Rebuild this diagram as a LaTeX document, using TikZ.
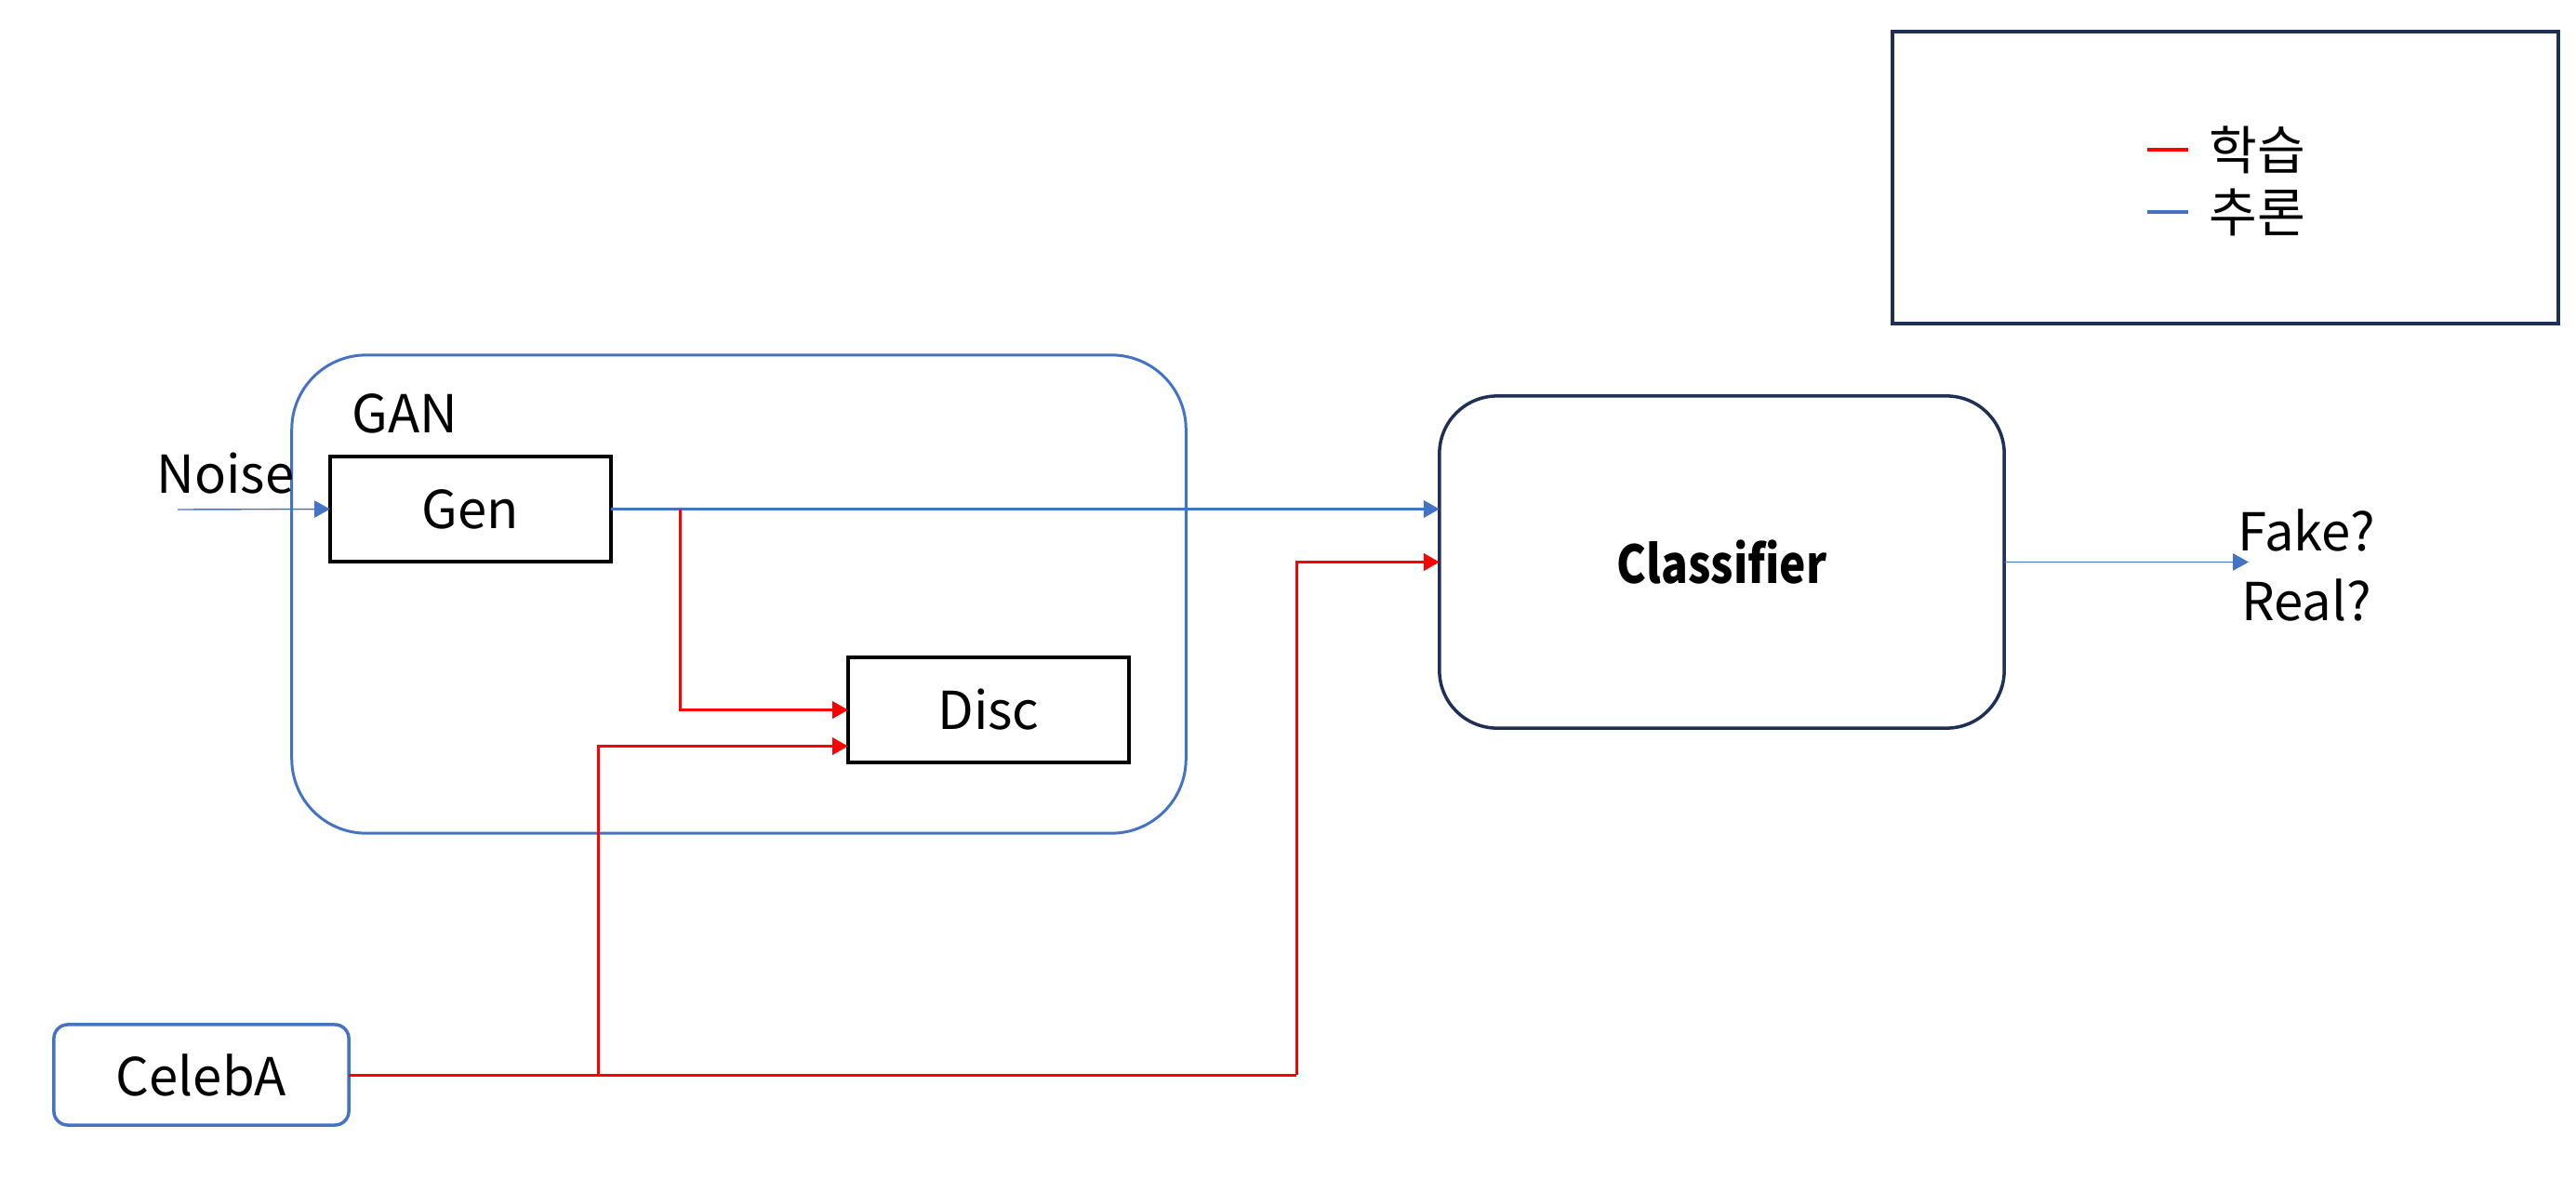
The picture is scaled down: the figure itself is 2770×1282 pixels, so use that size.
\documentclass[tikz,border=0pt]{standalone}
\usepackage{fontspec}
\setmainfont{Noto Sans CJK KR}
\usetikzlibrary{arrows.meta}
\definecolor{cblue}{HTML}{4472C4}
\definecolor{cred}{HTML}{FF0000}
\definecolor{cnavy}{HTML}{1F3056}
\tikzset{
  txt/.style={font=\fontsize{16}{20}\selectfont, text=black},
  blkbox/.style={draw=black, line width=1.15pt, minimum width=3.02cm, minimum height=1.13cm, inner sep=0pt, outer sep=0pt, txt},
  tip/.style={-{Triangle[length=4.8pt,width=5.2pt]}},
  redline/.style={draw=cred, line width=0.85pt},
  blueline/.style={draw=cblue, line width=0.85pt},
  thinblue/.style={draw=cblue, line width=0.4pt},
}
\begin{document}
\begin{tikzpicture}[x=0.01cm, y=-0.01cm]
\useasboundingbox (0,0) rectangle (2770,1282);
% GAN container
\node[draw=cblue, line width=0.85pt, rounded corners=0.8cm, minimum width=9.61cm, minimum height=5.14cm, inner sep=0pt, outer sep=0pt] (gan) at (794.5,639) {};
\node[txt, anchor=west] (ganlbl) at (366,445) {GAN};
% blocks
\node[blkbox] (gen) at (506,547.5) {Gen};
\node[blkbox] (disc) at (1063,763.5) {Disc};
\node[draw=cnavy, line width=1pt, rounded corners=0.62cm, minimum width=6.07cm, minimum height=3.57cm, inner sep=0pt, outer sep=0pt] (cls) at (1851.5,604.5) {};
\node[txt, font=\fontsize{16}{20}\selectfont\bfseries, xscale=0.85] (clslbl) at (cls.center) {Classifier};
\node[draw=cblue, line width=1pt, rounded corners=0.15cm, minimum width=3.17cm, minimum height=1.08cm, inner sep=0pt, outer sep=0pt, txt] (celeba) at (216.5,1156) {CelebA};
% noise
\node[txt, anchor=west] (noise) at (156,509) {Noise};
\coordinate (nstart) at (191,548);
\draw[thinblue, tip, cblue] (nstart) -- (gen.west);
% gen -> classifier
\draw[blueline, tip, cblue] (gen.east) -- (cls.west |- gen.east);
% red from gen to disc
\coordinate (b1) at (731,548);
\draw[redline, tip, cred] (b1) |- (disc.west);
% celebA lines
\coordinate (c1) at (643,1156);
\coordinate (c2) at (1394,1156);
\draw[redline] (celeba.east) -- (c2);
\draw[redline, tip, cred] (c2) |- (cls.west);
\draw[redline, tip, cred] (c1) |- ([yshift=-0.39cm]disc.west);
% output
\node[txt, align=center, font=\fontsize{16}{21.5}\selectfont] (out) at (2480,608) {Fake?\\Real?};
\coordinate (oend) at (2418,604.5);
\draw[thinblue, tip, cblue] (cls.east) -- (oend);
% legend
\node[draw=cnavy, line width=1.15pt, minimum width=7.16cm, minimum height=3.14cm, inner sep=0pt, outer sep=0pt] (legend) at (2393,191) {};
\node[txt, anchor=west] (l1) at (2363,161) {학습};
\node[txt, anchor=west] (l2) at (2363,228) {추론};
\coordinate (r1) at (2309,161);
\coordinate (r2) at (2353,161);
\coordinate (u1) at (2309,228);
\coordinate (u2) at (2353,228);
\draw[draw=cred, line width=1.1pt] (r1) -- (r2);
\draw[draw=cblue, line width=1.1pt] (u1) -- (u2);
\end{tikzpicture}
\end{document}
